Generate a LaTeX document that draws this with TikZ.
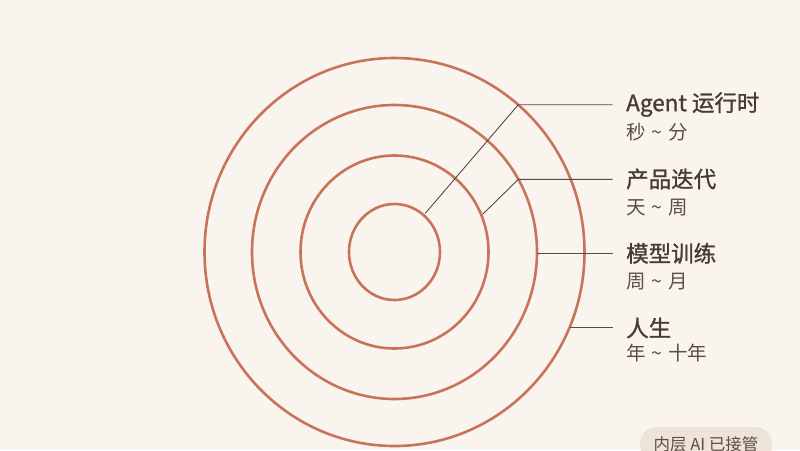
\documentclass[tikz,border=0pt]{standalone}
\usepackage{fontspec}
\setmainfont{Noto Sans CJK SC}
\newfontfamily\cjk{Noto Sans CJK SC}
\newfontfamily\cjkm[FakeBold=1.1]{Noto Sans CJK SC}
\definecolor{bg}{HTML}{F9F4EE}
\definecolor{ring}{HTML}{C8735A}
\definecolor{lead}{HTML}{5A4A3E}
\definecolor{ttl}{HTML}{4A3B30}
\definecolor{sub}{HTML}{5E4E43}
\definecolor{pill}{HTML}{EDE3D8}
\newcommand{\rng}{\hspace{0.3em}\textasciitilde\hspace{0.3em}}
\begin{document}
\begin{tikzpicture}[x=1pt,y=-1pt,
  ringline/.style={draw=ring,line width=2.6pt},
  leadline/.style={draw=lead,line width=0.9pt},
  title/.style={anchor=west,inner sep=0pt,text=ttl,font=\cjkm\fontsize{22.5}{25}\selectfont},
  subt/.style={anchor=west,inner sep=0pt,text=sub,font=\cjk\fontsize{19.5}{22}\selectfont}]
\fill[bg] (0,0) rectangle (800,450);
\useasboundingbox (0,0) rectangle (800,450);
\coordinate (c) at (394.5,252);
\draw[ringline] (c) ellipse [x radius=45.5, y radius=48];
\draw[ringline] (c) ellipse [x radius=94, y radius=96.5];
\draw[ringline] (c) ellipse [x radius=142.5, y radius=147];
\draw[ringline] (c) ellipse [x radius=190, y radius=194];
% leader coordinates
\coordinate (a0) at (425.3,213.3);
\coordinate (a1) at (518.3,104.7);
\coordinate (a2) at (612.5,104.7);
\coordinate (b0) at (482.7,214.3);
\coordinate (b1) at (518.3,179.3);
\coordinate (b2) at (612.5,179.3);
\coordinate (m0) at (537,253.3);
\coordinate (m2) at (612.5,253.3);
\coordinate (r0) at (570,327.7);
\coordinate (r2) at (612.5,327.7);
\draw[leadline] (a0) -- (a1) -- (a2);
\draw[leadline] (b0) -- (b1) -- (b2);
\draw[leadline] (m0) -- (m2);
\draw[leadline] (r0) -- (r2);
% labels
\node[title] (ta) at (626,104.5) {Agent 运行时};
\node[subt] (sa) at (626,132.5) {秒\rng 分};
\node[title] (tb) at (626,179) {产品迭代};
\node[subt] (sb) at (626,208) {天\rng 周};
\node[title] (tm) at (626,253.3) {模型训练};
\node[subt] (sm) at (626,281.5) {周\rng 月};
\node[title] (tr) at (626,328) {人生};
\node[subt] (sr) at (626,353.5) {年\rng 十年};
% badge
\begin{scope}
\clip (0,0) rectangle (800,450);
\fill[pill,rounded corners=17pt] (640,427) rectangle (772,463);
\node[anchor=center,inner sep=0pt,text=sub,font=\cjk\fontsize{16.5}{19}\selectfont] (bd) at (706,444.5) {内层 AI 已接管};
\end{scope}
\end{tikzpicture}
\end{document}
